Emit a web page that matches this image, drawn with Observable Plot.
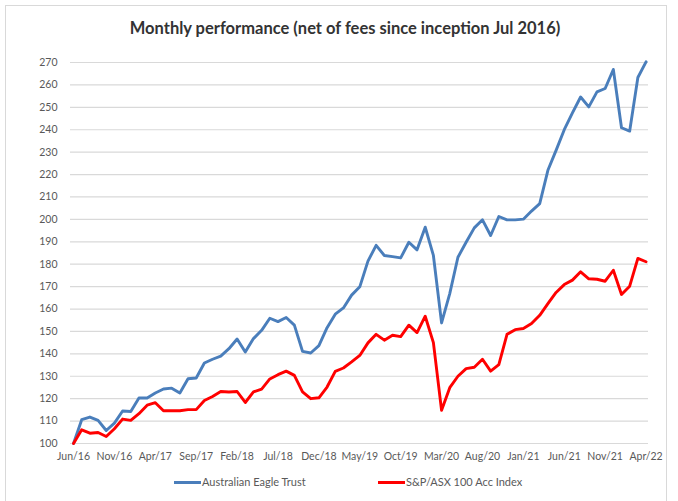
<!DOCTYPE html>
<html>
<head>
<meta charset="utf-8">
<script src="https://cdn.jsdelivr.net/npm/d3@7"></script>
<script src="https://cdn.jsdelivr.net/npm/@observablehq/plot@0.6"></script>
<style>
  html, body { margin: 0; padding: 0; background: #fff; }
  #wrap { position: relative; width: 678px; height: 501px; overflow: hidden; font-family: Lato, "Open Sans", sans-serif; }
  #frame { position: absolute; left: 5px; top: 5px; width: 662px; height: 600px; border: 1px solid #d9d9d9; box-sizing: border-box; }
  #title { position: absolute; left: 0; top: 0; width: 690px; height: 50px; line-height: 56px; text-align: center; font-weight: bold; font-size: 16.5px; color: #333; }
  #chart { position: absolute; left: 0; top: 50px; }
  #legend { position: absolute; left: 0; top: 474px; width: 678px; height: 16px; font-size: 11px; color: #595959; }
  .item { position: absolute; top: 0; height: 16px; line-height: 16px; white-space: nowrap; }
  .swatch { position: absolute; top: 7px; height: 3px; }
</style>
</head>
<body>
<div id="wrap">
  <div id="frame"></div>
  <div id="title">Monthly performance (net of fees since inception Jul 2016)</div>
  <div id="chart"></div>
  <div id="legend"></div>
</div>
<script>
// Monthly series, Jun/16 .. Apr/22 (71 months)
const fundName = "Australian Eagle Trust";
const indexName = "S&P/ASX 100 Acc Index";

const fund = [
  100.0, 110.6, 111.8, 110.3, 105.8, 109.1, 114.5, 114.3, 120.3, 120.3,
  122.5, 124.3, 124.7, 122.5, 128.9, 129.2, 135.9, 137.6, 139.0, 142.3,
  146.6, 140.8, 146.8, 150.5, 155.9, 154.4, 156.2, 152.8, 141.1, 140.4,
  143.7, 151.7, 157.7, 160.5, 166.2, 169.9, 181.4, 188.4, 183.9, 183.4,
  182.8, 189.8, 186.4, 196.5, 183.9, 153.8, 166.9, 183.1, 189.8, 196.2,
  199.8, 192.8, 201.3, 199.8, 199.8, 200.1, 203.7, 207.0, 221.9, 230.8,
  240.0, 247.5, 254.6, 250.2, 256.9, 258.4, 266.9, 240.9, 239.4, 263.3,
  270.3
];

const index = [
  100.0, 106.1, 104.6, 104.9, 103.1, 106.6, 110.9, 110.3, 113.3, 117.1,
  118.2, 114.6, 114.6, 114.6, 115.1, 115.1, 119.2, 121.0, 123.2, 123.0,
  123.2, 118.3, 123.0, 124.3, 128.8, 130.7, 132.3, 130.4, 123.0, 120.0,
  120.4, 125.2, 132.2, 133.7, 136.4, 139.3, 144.9, 148.7, 146.1, 148.3,
  147.7, 152.8, 149.5, 156.8, 145.0, 114.8, 124.9, 130.0, 133.4, 134.0,
  137.6, 132.3, 135.2, 148.7, 150.8, 151.3, 153.5, 157.2, 162.4, 167.4,
  170.9, 172.9, 176.6, 173.5, 173.3, 172.4, 177.3, 166.5, 170.2, 182.6,
  181.1
];

const tickLabels = ["Jun/16","Nov/16","Apr/17","Sep/17","Feb/18","Jul/18","Dec/18",
  "May/19","Oct/19","Mar/20","Aug/20","Jan/21","Jun/21","Nov/21","Apr/22"];
const yTicks = [100,110,120,130,140,150,160,170,180,190,200,210,220,230,240,250,260,270];

const colors = { [fundName]: "#4a7ebb", [indexName]: "#ff0000" };

const rows = [
  ...fund.map((v, i) => ({ i, v, s: fundName })),
  ...index.map((v, i) => ({ i, v, s: indexName }))
];
const tickPos = tickLabels.map((_, k) => k * 5);

const chart = Plot.plot({
  width: 678,
  height: 425,
  marginLeft: 70,
  marginRight: 30,
  marginTop: 12,
  marginBottom: 32,
  style: { fontFamily: "Lato, 'Open Sans', sans-serif", fontSize: "10.5px", color: "#595959", background: "transparent" },
  x: { domain: [-0.37, 70.3], ticks: tickPos, tickFormat: d => tickLabels[Math.round(d / 5)] },
  y: { domain: [100, 270], ticks: yTicks },
  marks: [
    Plot.gridY(yTicks, { stroke: "#d9d9d9", strokeOpacity: 1, strokeWidth: 1.2 }),
    Plot.axisY({ ticks: yTicks, tickSize: 0, tickPadding: 13, label: null, fill: "#595959" }),
    Plot.axisX({ ticks: tickPos, tickFormat: d => tickLabels[Math.round(d / 5)], tickSize: 0, tickPadding: 9, label: null, fill: "#595959" }),
    Plot.line(rows, { x: "i", y: "v", z: "s", stroke: d => colors[d.s], strokeWidth: 2.9, strokeLinejoin: "round", strokeLinecap: "round" })
  ]
});
document.getElementById("chart").appendChild(chart);

// legend
const legend = document.getElementById("legend");
const items = [
  { name: fundName, color: colors[fundName], sx: 174, tx: 202 },
  { name: indexName, color: colors[indexName], sx: 378, tx: 406 }
];
for (const it of items) {
  const sw = document.createElement("div");
  sw.className = "swatch";
  sw.style.left = it.sx + "px";
  sw.style.width = "27px";
  sw.style.background = it.color;
  legend.appendChild(sw);
  const t = document.createElement("div");
  t.className = "item";
  t.style.left = it.tx + "px";
  t.textContent = it.name;
  legend.appendChild(t);
}
</script>
</body>
</html>
